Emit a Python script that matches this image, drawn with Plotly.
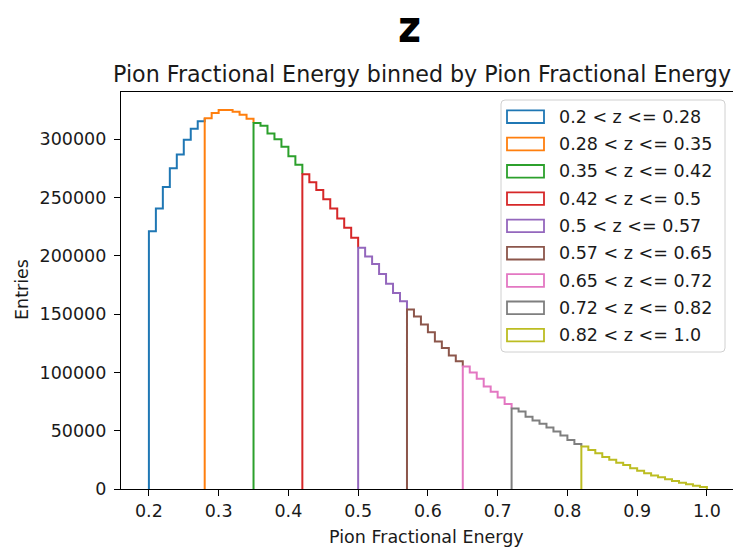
import numpy as np
import plotly.graph_objects as go

# ---------------- data ----------------
bin_width = 0.01
seg_edges = [0.2, 0.28, 0.35, 0.42, 0.5, 0.57, 0.65, 0.72, 0.82, 1.0]
labels = ["0.2 < z <= 0.28", "0.28 < z <= 0.35", "0.35 < z <= 0.42",
          "0.42 < z <= 0.5", "0.5 < z <= 0.57", "0.57 < z <= 0.65",
          "0.65 < z <= 0.72", "0.72 < z <= 0.82", "0.82 < z <= 1.0"]
counts_1 = [221000, 240500, 259000, 275000, 287000, 299500, 309000, 315500]
counts_2 = [318000, 322500, 325000, 325000, 323500, 321000, 317500]
counts_3 = [314000, 311500, 305000, 300000, 293500, 285500, 278000]
counts_4 = [270000, 263000, 256500, 248500, 240500, 232000, 224000, 215500]
counts_5 = [207000, 199500, 193000, 184500, 176000, 168000, 161000]
counts_6 = [154000, 148000, 141000, 134500, 126500, 121000, 114500, 109500]
counts_7 = [105000, 100000, 94500, 88000, 83500, 78500, 73000]
counts_8 = [69000, 66500, 62000, 58700, 56000, 52700, 49300, 45800, 42100, 38700]
counts_9 = [36400, 33500, 30700, 27500, 25000, 22600, 20500, 17900, 15700,
            13500, 11500, 10000, 8300, 6900, 5400, 4100, 2800, 1700]
all_counts = [counts_1, counts_2, counts_3, counts_4, counts_5, counts_6,
              counts_7, counts_8, counts_9]
colors = ["#1f77b4", "#ff7f0e", "#2ca02c", "#d62728", "#9467bd",
          "#8c564b", "#e377c2", "#7f7f7f", "#bcbd22"]
x_ticks = [0.2, 0.3, 0.4, 0.5, 0.6, 0.7, 0.8, 0.9, 1.0]
y_ticks = [0, 50000, 100000, 150000, 200000, 250000, 300000]

# ---------------- layout geometry ----------------
W, H = 733, 550
L, R = 121, 0
T, B = 92, 61
PW, PH = W - L - R, H - T - B
FONT = "DejaVu Sans"
TXT = "#1a1a1a"


def px(xp):
    return (xp - L) / PW


def py(yp):
    return (H - B - yp) / PH


fig = go.Figure()
nseg = len(all_counts)
for i, (lo, cnt, col, lab) in enumerate(zip(seg_edges[:-1], all_counts, colors, labels)):
    n = len(cnt)
    edges = [round(lo + bin_width * k, 2) for k in range(n + 1)]
    # the closing edge of a segment is hidden under the next segment's rising edge
    end_y = all_counts[i + 1][0] if i + 1 < nseg else 0
    xs = [edges[0]] + edges[:-1] + [edges[-1]]
    ys = [0] + list(cnt) + [end_y]
    fig.add_trace(go.Scatter(x=xs, y=ys, mode="lines", name=lab,
                             line=dict(color=col, width=2, shape="hv"),
                             showlegend=False, hoverinfo="skip"))

# manual legend (matplotlib style outlined patches)
x0l, x1l, y0l, y1l, r = 501, 725, 100, 352, 4
frame_path = (f"M{px(x0l + r)},{py(y0l)} L{px(x1l - r)},{py(y0l)} "
              f"Q{px(x1l)},{py(y0l)} {px(x1l)},{py(y0l + r)} "
              f"L{px(x1l)},{py(y1l - r)} Q{px(x1l)},{py(y1l)} {px(x1l - r)},{py(y1l)} "
              f"L{px(x0l + r)},{py(y1l)} Q{px(x0l)},{py(y1l)} {px(x0l)},{py(y1l - r)} "
              f"L{px(x0l)},{py(y0l + r)} Q{px(x0l)},{py(y0l)} {px(x0l + r)},{py(y0l)} Z")
shapes = [dict(type="path", xref="paper", yref="paper", path=frame_path,
               line=dict(color="#d0d0d0", width=1),
               fillcolor="rgba(255,255,255,0.8)", layer="above")]
annotations = []
row0, dy = 116.7, 27.3
for i, (lab, col) in enumerate(zip(labels, colors)):
    yc = row0 + i * dy
    shapes.append(dict(type="rect", xref="paper", yref="paper",
                       x0=px(507), x1=px(544), y0=py(yc + 6.3), y1=py(yc - 6.3),
                       line=dict(color=col, width=1.8),
                       fillcolor="rgba(0,0,0,0)", layer="above"))
    annotations.append(dict(text=lab, xref="paper", yref="paper",
                            x=px(557), y=py(yc), xanchor="left", yanchor="middle",
                            showarrow=False, font=dict(family=FONT, size=17.5, color=TXT)))

# titles
annotations.append(dict(text="<b>z</b>", xref="paper", yref="paper",
                        x=px(409.5), y=py(27), xanchor="center", yanchor="middle",
                        showarrow=False,
                        font=dict(family="DejaVu Sans Condensed", size=44, color="black")))
annotations.append(dict(text="Pion Fractional Energy binned by Pion Fractional Energy",
                        xref="paper", yref="paper", x=px(111), y=py(74),
                        xanchor="left", yanchor="middle", showarrow=False,
                        font=dict(family=FONT, size=22.2, color=TXT)))
annotations.append(dict(text="Pion Fractional Energy", xref="paper", yref="paper",
                        x=px(426), y=py(537), xanchor="center", yanchor="middle",
                        showarrow=False, font=dict(family=FONT, size=17.5, color=TXT)))
annotations.append(dict(text="Entries", xref="paper", yref="paper",
                        x=px(22), y=py(290), xanchor="center", yanchor="middle",
                        textangle=-90, showarrow=False,
                        font=dict(family=FONT, size=17.5, color=TXT)))

fig.update_layout(
    width=W, height=H,
    margin=dict(l=L, r=R, t=T, b=B, pad=0),
    paper_bgcolor="white", plot_bgcolor="white",
    font=dict(family=FONT, size=17.5, color=TXT),
    showlegend=False,
    shapes=shapes, annotations=annotations,
)
fig.update_xaxes(range=[0.16, 0.16 + 0.1 * PW / 69.75], tickvals=x_ticks,
                 ticktext=[f"{v:.1f}" for v in x_ticks],
                 showgrid=False, zeroline=False, showline=True, mirror=True,
                 linecolor="black", linewidth=1.3, ticks="outside", ticklen=6,
                 tickwidth=1.3, tickcolor="black", ticklabelstandoff=0,
                 tickfont=dict(family=FONT, size=17.5, color=TXT))
fig.update_yaxes(range=[0, 340500], tickvals=y_ticks,
                 ticktext=[str(v) for v in y_ticks],
                 showgrid=False, zeroline=False, showline=True, mirror=False,
                 linecolor="black", linewidth=1.3, ticks="outside", ticklen=6,
                 tickwidth=1.3, tickcolor="black", ticklabelstandoff=4,
                 tickfont=dict(family=FONT, size=17.5, color=TXT))

fig.write_html("out.html")
